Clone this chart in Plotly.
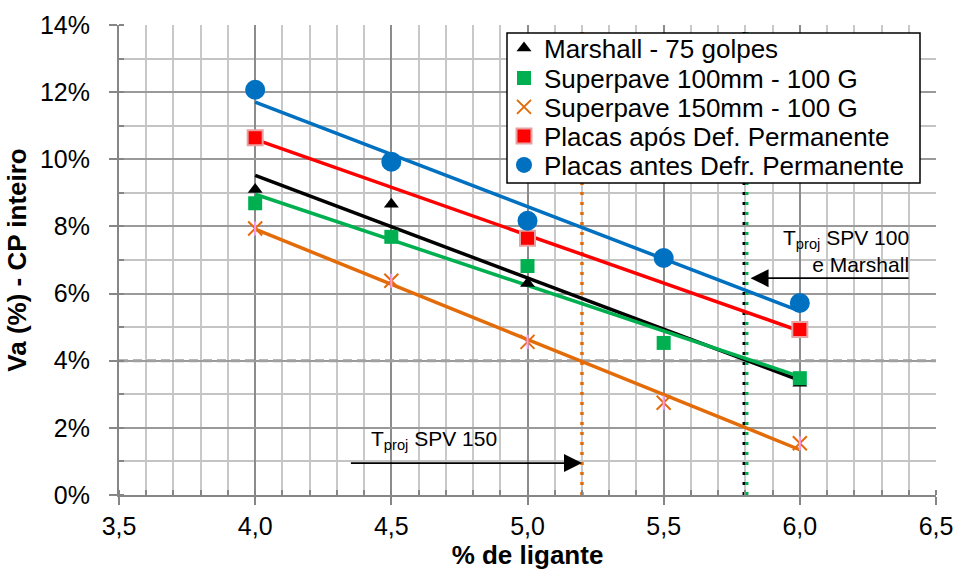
import numpy as np
import plotly.graph_objects as go

# ---- data ----
x_marshall = [4.0, 4.5, 5.0, 6.0]
y_marshall = [0.0910, 0.0866, 0.0630, 0.0333]

x_spv100 = [4.0, 4.5, 5.0, 5.5, 6.0]
y_spv100 = [0.0869, 0.0769, 0.0682, 0.0453, 0.0348]

x_spv150 = [4.0, 4.5, 5.0, 5.5, 6.0]
y_spv150 = [0.0794, 0.0638, 0.0456, 0.0275, 0.0154]

x_apos = [4.0, 5.0, 6.0]
y_apos = [0.1064, 0.0765, 0.0493]

x_antes = [4.0, 4.5, 5.0, 5.5, 6.0]
y_antes = [0.1207, 0.0993, 0.0817, 0.0706, 0.0572]

x_proj150 = 5.2
x_proj100 = 5.8
va_target = 0.04

x_ticks = [3.5, 4.0, 4.5, 5.0, 5.5, 6.0, 6.5]
y_ticks = [0.0, 0.02, 0.04, 0.06, 0.08, 0.10, 0.12, 0.14]

FONT = "Liberation Sans, Arial, sans-serif"

# plot-area geometry (pixels)
L, R, T, B = 119, 936, 25, 495
W, H = R - L, B - T

def px(xp):
    return (xp - L) / W

def py(yp):
    return (B - yp) / H

series = [
    ("Marshall - 75 golpes", x_marshall, y_marshall, "#000000",
     dict(symbol="triangle-up", size=13, color="#000000")),
    ("Superpave 100mm - 100 G", x_spv100, y_spv100, "#00B050",
     dict(symbol="square", size=14, color="#00B050")),
    ("Superpave 150mm - 100 G", x_spv150, y_spv150, "#E36C09",
     dict(symbol="x-thin-open", size=14, color="#E36C09", line=dict(width=2, color="#E36C09"))),
    ("Placas após Def. Permanente", x_apos, y_apos, "#FF0000",
     dict(symbol="square", size=15, color="#FF0000", line=dict(width=2, color="#E8A0A0"))),
    ("Placas antes Defr. Permanente", x_antes, y_antes, "#0070C0",
     dict(symbol="circle", size=20, color="#0070C0")),
]
legend_rows = [48, 78, 107, 136, 165]

fig = go.Figure()

# white boxes behind the annotation texts (cover gridlines)
fig.add_shape(type="rect", xref="paper", yref="paper", x0=px(352), x1=px(516), y0=py(455), y1=py(418),
              fillcolor="white", line=dict(width=0), layer="between")
fig.add_shape(type="rect", xref="paper", yref="paper", x0=px(758), x1=px(936), y0=py(287), y1=py(214),
              fillcolor="white", line=dict(width=0), layer="between")

# horizontal 4% line
fig.add_shape(type="line", x0=3.5, x1=6.5, y0=va_target, y1=va_target, xref="x", yref="y",
              line=dict(color="#A0A0A0", width=3, dash="9px,5px"), layer="between")
# vertical reference lines
fig.add_shape(type="line", x0=x_proj150, x1=x_proj150, y0=0, y1=0.14, xref="x", yref="y",
              line=dict(color="#E36C09", width=3.5, dash="3px,7px"), layer="between")
fig.add_shape(type="line", x0=x_proj100 - 0.004, x1=x_proj100 - 0.004, y0=0, y1=0.14, xref="x", yref="y",
              line=dict(color="#000000", width=3.5, dash="3px,7px"), layer="between")
fig.add_shape(type="line", x0=x_proj100 + 0.005, x1=x_proj100 + 0.005, y0=0, y1=0.14, xref="x", yref="y",
              line=dict(color="#00B050", width=3.5, dash="3px,7px"), layer="between")

# trendlines
for name, xs, ys, col, mk in series:
    a, b = np.polyfit(xs, ys, 1)
    xl = np.array([min(xs), max(xs)])
    fig.add_trace(go.Scatter(x=xl, y=a * xl + b, mode="lines", line=dict(color=col, width=3.5),
                             showlegend=False, hoverinfo="skip"))

# markers, each with its own legend row
for i, (name, xs, ys, col, mk) in enumerate(series):
    lg = "legend" if i == 0 else f"legend{i + 1}"
    fig.add_trace(go.Scatter(x=xs, y=ys, mode="markers", name=name, marker=mk, legend=lg))
    if i == 2:
        fig.add_trace(go.Scatter(x=xs, y=ys, mode="markers", showlegend=False, hoverinfo="skip",
                                 marker=dict(symbol="line-ns-open", size=10,
                                             line=dict(width=2, color=col))))

# legend frame
fig.add_shape(type="rect", xref="paper", yref="paper", x0=px(507), x1=px(920), y0=py(183), y1=py(33),
              fillcolor="white", line=dict(color="#000000", width=1.5), layer="above")

legends = {}
for i, row in enumerate(legend_rows):
    key = "legend" if i == 0 else f"legend{i + 1}"
    legends[key] = dict(x=px(504), y=py(row), xanchor="left", yanchor="middle",
                        bgcolor="rgba(0,0,0,0)", borderwidth=0,
                        font=dict(family=FONT, size=26, color="#000"), itemsizing="trace")

# annotations
fig.add_annotation(x=x_proj150, y=0.0095, xref="x", yref="y", ax=4.346, ay=0.0095, axref="x", ayref="y",
                   text="", showarrow=True, arrowhead=2, arrowsize=2, arrowwidth=1.8, arrowcolor="#000",
                   standoff=0)
fig.add_annotation(x=px(434), y=py(440), xref="paper", yref="paper", yanchor="middle",
                   text="T<sub>proj</sub> SPV 150",
                   showarrow=False, font=dict(family=FONT, size=21, color="#000"))
fig.add_annotation(x=5.819, y=0.0646, xref="x", yref="y", ax=6.405, ay=0.0646, axref="x", ayref="y",
                   text="", showarrow=True, arrowhead=2, arrowsize=2, arrowwidth=1.8, arrowcolor="#000",
                   standoff=0)
fig.add_annotation(x=px(911), y=py(251), xref="paper", yref="paper", xanchor="right",
                   text="T<sub>proj</sub> SPV 100<br>e Marshall", align="right",
                   showarrow=False, font=dict(family=FONT, size=21, color="#000"))

fig.update_layout(
    width=957, height=574,
    margin=dict(l=L, r=957 - R, t=T, b=574 - B),
    paper_bgcolor="white", plot_bgcolor="white",
    separators=",.",
    font=dict(family=FONT, size=25, color="#000"),
    showlegend=True,
    **legends,
)
fig.update_xaxes(range=[3.5, 6.5], tickvals=x_ticks, tickformat=".1f", automargin=False,
                 showline=True, linecolor="#868686", linewidth=2,
                 ticks="outside", ticklen=8, tickwidth=2, tickcolor="#868686",
                 gridcolor="#8C8C8C", gridwidth=1.5, zeroline=False,
                 ticklabelstandoff=0,
                 minor=dict(dtick=0.1, showgrid=True, gridcolor="#C8C8C8", gridwidth=1.5,
                            ticks="inside", ticklen=5, tickcolor="#868686"),
                 title=dict(text="<b>% de ligante</b>", font=dict(family=FONT, size=26), standoff=4),
                 tickfont=dict(family=FONT, size=25))
fig.update_yaxes(range=[0, 0.14], tickvals=y_ticks, tickformat=".0%", automargin=False,
                 showline=True, linecolor="#868686", linewidth=2,
                 ticks="outside", ticklen=8, tickwidth=2, tickcolor="#868686",
                 gridcolor="#9A9A9A", gridwidth=1.5, zeroline=False,
                 ticklabelstandoff=14,
                 minor=dict(dtick=0.01, showgrid=True, gridcolor="#C4C4C4", gridwidth=1.5,
                            ticks="inside", ticklen=5, tickcolor="#868686"),
                 title=dict(text="<b>Va (%) - CP inteiro</b>", font=dict(family=FONT, size=26), standoff=6),
                 tickfont=dict(family=FONT, size=25))

fig.write_html("out.html")
